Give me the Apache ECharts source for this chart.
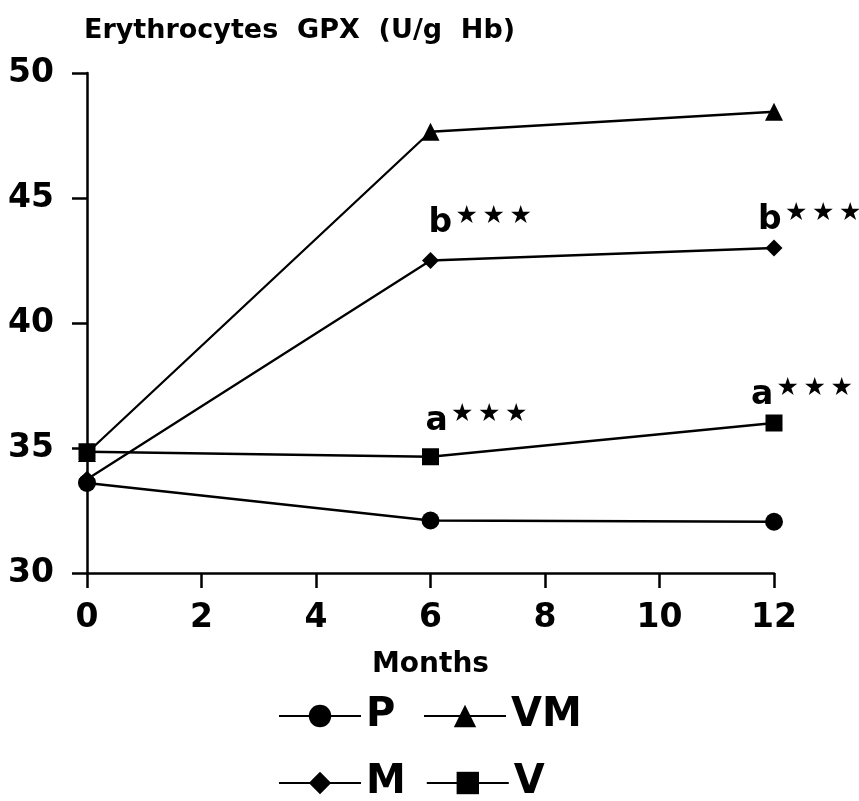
<!DOCTYPE html>
<html>
<head>
<meta charset="utf-8">
<script src="https://cdn.jsdelivr.net/npm/echarts@6/dist/echarts.min.js"></script>
<style>
  html, body { margin: 0; padding: 0; background: #fff; }
  #chart { width: 859px; height: 801px; }
</style>
</head>
<body>
<div id="chart"></div>
<script>
// Months of follow-up
const months = [0, 6, 12];

// Erythrocyte GPX activity (U/g Hb) per group
const gpxP  = [33.6, 32.1, 32.05];
const gpxVM = [34.8, 47.65, 48.45];
const gpxM  = [33.75, 42.5, 43.0];
const gpxV  = [34.85, 34.65, 36.0];

// Significance marks shown next to points (index into months)
const marksM = ['', 'b', 'b'];
const marksV = ['', 'a', 'a'];

// Axis ticks
const yTicks = { min: 30, max: 50, step: 5 };
const xTicks = { min: 0, max: 12, step: 2 };

const FONT = '"DejaVu Sans", Verdana, sans-serif';
const INK = '#000';

const starRich = {
  l: { fontFamily: FONT, fontSize: 33, fontWeight: 'bold', color: INK, padding: [0, 1, 0, 0] },
  s: { fontFamily: FONT, fontSize: 25, color: INK, width: 27, align: 'center', padding: [0, 0, 14, 0] }
};

function markLabel(letter, dx, dy) {
  return {
    show: true,
    position: 'inside',
    align: 'left',
    verticalAlign: 'middle',
    offset: [dx, dy],
    formatter: '{l|' + letter + '}{s|★}{s|★}{s|★}',
    rich: starRich
  };
}

// Label placement per point for the annotated series
const labelPlaceM = [null, [-2, -37], [-16, -28]];
const labelPlaceV = [null, [-5, -35], [-23, -28]];

function buildData(values, marks, place) {
  return months.map((m, i) => {
    const item = { value: [m, values[i]] };
    if (marks && marks[i]) {
      item.label = markLabel(marks[i], place[i][0], place[i][1]);
    }
    return item;
  });
}

function lineSeries(name, values, symbol, size, z, marks, place) {
  return {
    name: name,
    type: 'line',
    data: buildData(values, marks, place),
    symbol: symbol,
    symbolSize: size,
    showAllSymbol: true,
    lineStyle: { color: INK, width: 2.3 },
    itemStyle: { color: INK, borderWidth: 0 },
    label: { show: false },
    emphasis: { disabled: true },
    animation: false,
    z: z
  };
}

const chart = echarts.init(document.getElementById('chart'), null, { renderer: 'canvas' });

const legendText = { fontFamily: FONT, fontSize: 40, fontWeight: 'bold', color: INK, width: 37, lineHeight: 40 };

chart.setOption({
  backgroundColor: '#fff',
  animation: false,
  title: {
    text: 'Erythrocytes  GPX  (U/g  Hb)',
    left: 79,
    top: 12,
    textStyle: { fontFamily: FONT, fontSize: 27, fontWeight: 'bold', color: INK }
  },
  legend: [
    {
      data: ['P', 'VM'],
      left: 278,
      top: 696,
      padding: 0,
      itemWidth: 82,
      itemHeight: 28,
      itemGap: 20,
      selectedMode: false,
      textStyle: legendText
    },
    {
      data: ['M', 'V'],
      left: 278,
      top: 763,
      padding: 0,
      itemWidth: 82,
      itemHeight: 28,
      itemGap: 20,
      selectedMode: false,
      textStyle: legendText
    }
  ],
  grid: { left: 87, right: 85, top: 73, bottom: 228, containLabel: false },
  xAxis: {
    type: 'value',
    min: xTicks.min,
    max: xTicks.max,
    interval: xTicks.step,
    name: 'Months',
    nameLocation: 'middle',
    nameGap: 78,
    nameTextStyle: { fontFamily: FONT, fontSize: 28, fontWeight: 'bold', color: INK },
    axisLine: { show: true, onZero: false, lineStyle: { color: INK, width: 2.5 } },
    axisTick: { show: true, inside: false, length: 15, lineStyle: { color: INK, width: 2.5 } },
    axisLabel: { margin: 29, fontFamily: FONT, fontSize: 33, fontWeight: 'bold', color: INK },
    splitLine: { show: false }
  },
  yAxis: {
    type: 'value',
    min: yTicks.min,
    max: yTicks.max,
    interval: yTicks.step,
    axisLine: { show: true, onZero: false, lineStyle: { color: INK, width: 2.5 } },
    axisTick: { show: true, inside: false, length: 15, lineStyle: { color: INK, width: 2.5 } },
    axisLabel: { margin: 33, fontFamily: FONT, fontSize: 33, fontWeight: 'bold', color: INK },
    splitLine: { show: false }
  },
  series: [
    lineSeries('P', gpxP, 'circle', 18, 6),
    lineSeries('VM', gpxVM, 'triangle', 18, 3),
    lineSeries('M', gpxM, 'diamond', 17, 3, marksM, labelPlaceM),
    lineSeries('V', gpxV, 'rect', 17, 5, marksV, labelPlaceV)
  ]
});
</script>
</body>
</html>
